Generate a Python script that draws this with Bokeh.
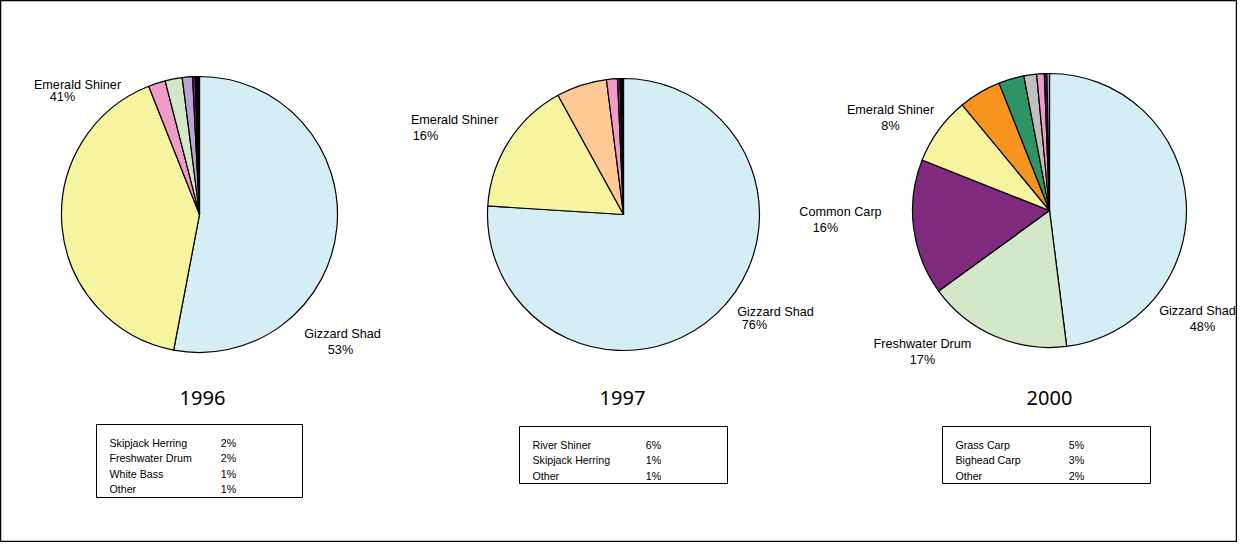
import numpy as np
from bokeh.plotting import figure
from bokeh.models import Range1d, ColumnDataSource
from bokeh.core.properties import value
from bokeh.embed import file_html
from bokeh.resources import INLINE

# slice shares (clockwise from 12 o'clock)
shares_1996 = [53, 41, 2, 2, 1.2, 0.3, 0.5]
colors_1996 = ["#d5edf4", "#f7f4a0", "#f19cc7", "#d3e8c8", "#b9a3d1", "#7f2a7f", "#000000"]
shares_1997 = [76, 16, 6, 1.3, 0.3, 0.4]
colors_1997 = ["#d5edf4", "#f7f4a0", "#fec995", "#f19cc7", "#7f2a7f", "#000000"]
shares_2000 = [48, 17, 16, 8, 5, 3, 1.5, 0.9, 0.3, 0.3]
colors_2000 = ["#d5edf4", "#d3e8c8", "#7f2a7f", "#f7f4a0", "#f7941d", "#2e9464",
               "#c0c0c0", "#f19cc7", "#1f2a7f", "#b9a3d1"]

years = ["1996", "1997", "2000"]
legend_names = [["Skipjack Herring", "Freshwater Drum", "White Bass", "Other"],
                ["River Shiner", "Skipjack Herring", "Other"],
                ["Grass Carp", "Bighead Carp", "Other"]]
legend_pcts = [["2%", "2%", "1%", "1%"], ["6%", "1%", "1%"], ["5%", "3%", "2%"]]

W, H = 1237, 542
FONT = value("Liberation Sans")

p = figure(width=W, height=H, output_backend="svg", toolbar_location=None,
           x_range=Range1d(0, W), y_range=Range1d(0, H), min_border=0)
p.axis.visible = False
p.grid.visible = False
p.outline_line_color = "black"
p.outline_line_width = 1.5


def Y(py):
    return H - py


def pie(cx, cy, r, shares, colors):
    frac = np.array(shares) / sum(shares)
    ends = np.cumsum(frac) * 2 * np.pi
    starts = ends - frac * 2 * np.pi
    src = ColumnDataSource(dict(start=np.pi / 2 - starts, end=np.pi / 2 - ends, color=colors))
    p.wedge(x=cx, y=Y(cy), radius=r, start_angle="start", end_angle="end",
            direction="clock", fill_color="color", line_color="black", line_width=1.2, source=src)


def label(x, y, txt, size="9.5pt", align="center"):
    p.text(x=[x], y=[Y(y)], text=[txt], text_font=FONT, text_font_size=size,
           text_align=align, text_baseline="middle", text_color="black")


pie(199, 214, 138, shares_1996, colors_1996)
pie(623, 214, 136, shares_1997, colors_1997)
pie(1049, 210, 137, shares_2000, colors_2000)

# slice labels
for x, y, t in [(77, 84, "Emerald Shiner"), (62, 96, "41%"),
                (342, 333, "Gizzard Shad"), (340, 349, "53%"),
                (454, 119, "Emerald Shiner"), (425, 135, "16%"),
                (775, 311, "Gizzard Shad"), (754, 324, "76%"),
                (890, 109, "Emerald Shiner"), (890, 125, "8%"),
                (840, 211, "Common Carp"), (825, 227, "16%"),
                (922, 343, "Freshwater Drum"), (922, 359, "17%"),
                (1197, 310, "Gizzard Shad"), (1202, 326, "48%")]:
    label(x, y, t)

# year titles
for x, yr in zip([202, 622, 1049], years):
    p.text(x=[x], y=[Y(397)], text=[yr], text_font=value("Noto Sans"), text_font_size="15pt",
           text_align="center", text_baseline="middle")

# legend boxes
boxes = [(96, 424, 206, 73, 228), (519, 426, 208, 57, 653), (942, 426, 208, 57, 1076)]
for (bx, by, bw, bh, px), names, pcts in zip(boxes, legend_names, legend_pcts):
    p.quad(left=bx, right=bx + bw, top=Y(by), bottom=Y(by + bh),
           fill_color="white", line_color="black", line_width=1)
    for i, (n, pc) in enumerate(zip(names, pcts)):
        yy = by + 18 + i * 15.5
        label(bx + 13, yy, n, size="8pt", align="left")
        label(px, yy, pc, size="8pt", align="center")

open("out.html", "w").write(file_html(p, INLINE))
